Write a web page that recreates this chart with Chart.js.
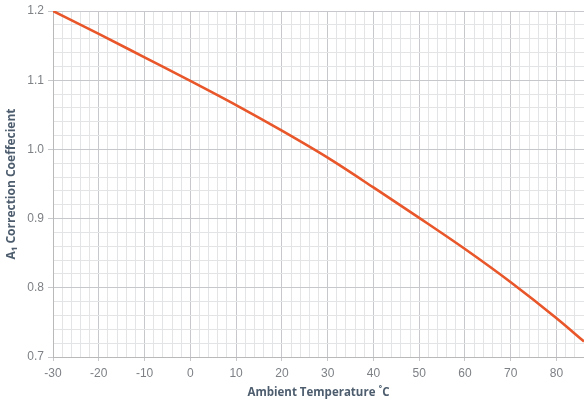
<!DOCTYPE html>
<html>
<head>
<meta charset="utf-8">
<script src="https://cdn.jsdelivr.net/npm/chart.js@4/dist/chart.umd.min.js"></script>
<style>
html,body{margin:0;padding:0;background:#fff;}
#c{display:block;}
</style>
</head>
<body>
<canvas id="c" width="584" height="403"></canvas>
<script>
const temperatures = [-30,-20,-10,0,10,20,30,40,50,60,70,80,86];
const coefficients = [1.200,1.167,1.133,1.099,1.064,1.027,0.988,0.945,0.901,0.856,0.808,0.756,0.7224];
const xTickLabels = [-30,-20,-10,0,10,20,30,40,50,60,70,80];
const yTickLabels = ['0.7','0.8','0.9','1.0','1.1','1.2'];

const points = temperatures.map((t,i)=>({x:t,y:coefficients[i]}));
const isMajorX = v => Math.round(v) % 10 === 0;
const isMajorY = v => Math.round(v*100) % 10 === 0;

new Chart(document.getElementById('c'), {
  type: 'line',
  data: {
    datasets: [{
      data: points,
      borderColor: '#e8562a',
      borderWidth: 2.6,
      pointRadius: 0,
      fill: false,
      cubicInterpolationMode: 'monotone'
    }]
  },
  options: {
    responsive: false,
    animation: false,
    layout: {padding: {top: 11, right: 0, left: 0, bottom: 0}},
    plugins: {legend: {display: false}, tooltip: {enabled: false}},
    scales: {
      x: {
        type: 'linear',
        min: -30, max: 86,
        afterFit: s => { s.height = 46; s.paddingRight = 0; s.paddingLeft = 0; },
        border: {display: true, color: '#b9b9b9', width: 1},
        grid: {
          color: c => isMajorX(c.tick.value) ? '#c6c8cb' : '#e3e4e6',
          tickColor: c => isMajorX(c.tick.value) ? '#c6c8cb' : 'rgba(0,0,0,0)',
          tickLength: 4,
          lineWidth: 1
        },
        ticks: {
          stepSize: 2,
          autoSkip: false,
          maxRotation: 0,
          padding: 5,
          color: '#7d8085',
          font: {family: 'Liberation Sans, Arial, sans-serif', size: 12},
          callback: v => xTickLabels.includes(Math.round(v)) && isMajorX(v) ? String(Math.round(v)) : ''
        },
        title: {
          display: true,
          text: 'Ambient Temperature \u02DAC',
          color: '#4d5d6e',
          font: {family: 'Open Sans, sans-serif', size: 11.5, weight: 'bold'},
          padding: {top: 4, bottom: 3}
        }
      },
      y: {
        type: 'linear',
        min: 0.7, max: 1.2,
        afterFit: s => { s.width = 53; s.paddingTop = 0; s.paddingBottom = 0; },
        border: {display: true, color: '#b9b9b9', width: 1},
        grid: {
          color: c => isMajorY(c.tick.value) ? '#c6c8cb' : '#e3e4e6',
          tickColor: c => isMajorY(c.tick.value) ? '#c6c8cb' : 'rgba(0,0,0,0)',
          tickLength: 5,
          lineWidth: 1
        },
        ticks: {
          stepSize: 0.02,
          autoSkip: false,
          padding: 4,
          color: '#7d8085',
          font: {family: 'Liberation Sans, Arial, sans-serif', size: 12},
          callback: v => {
            if (!isMajorY(v)) return '';
            const s = (Math.round(v*10)/10).toFixed(1);
            return yTickLabels.includes(s) ? s : '';
          }
        },
        title: {
          display: true,
          text: 'A\u2081 Correction Coeffecient',
          color: '#4d5d6e',
          font: {family: 'Open Sans, sans-serif', size: 12, weight: 'bold'},
          padding: {top: 4, bottom: 0}
        }
      }
    }
  }
});
</script>
</body>
</html>
